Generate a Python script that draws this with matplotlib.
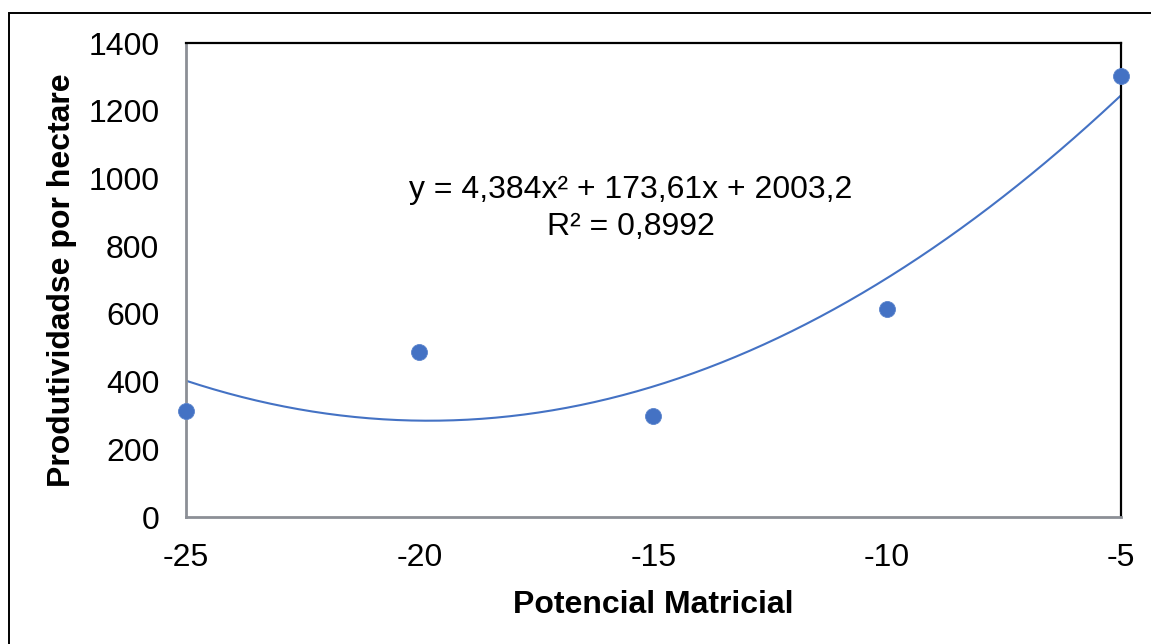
import numpy as np
import matplotlib.pyplot as plt
from matplotlib.patches import Rectangle

plt.rcParams['font.family'] = ['Liberation Sans', 'DejaVu Sans']
plt.rcParams['axes.unicode_minus'] = False

# data
potencial = [-25, -20, -15, -10, -5]
produtividade = [313, 486, 299, 614, 1302]
# trendline coefficients as shown on the chart (a*x^2 + b*x + c)
coef = [4.384, 173.61, 2003.2]
r2_text = 'R² = 0,8992'
eq_text = 'y = 4,384x² + 173,61x + 2003,2'

blue = '#4472C4'

fig = plt.figure(figsize=(11.51, 6.44), dpi=100)
ax = fig.add_axes([0.1613, 0.1972, 0.8124, 0.736])

# outer chart border (only top/left visible in the picture)
fig.add_artist(Rectangle((9 / 1151, -0.1), 1.2, 1 - 12.7 / 644 + 0.1,
                         transform=fig.transFigure, fill=False,
                         edgecolor='black', linewidth=1.4))

xs = np.linspace(-25, -5, 200)
ax.plot(xs, np.polyval(coef, xs), color=blue, linewidth=1.5, zorder=2)
ax.plot(potencial, produtividade, 'o', color=blue, markersize=11.5,
        markeredgecolor='#5b84cc', markeredgewidth=0.6, zorder=3,
        clip_on=False)

ax.set_xlim(-25, -5)
ax.set_ylim(0, 1400)
ax.set_xticks(potencial)
ax.set_yticks(range(0, 1401, 200))
ax.tick_params(length=0, labelsize=23)
ax.tick_params(axis='y', pad=19)
ax.tick_params(axis='x', pad=19)

for side in ['top', 'right']:
    ax.spines[side].set_color('black')
    ax.spines[side].set_linewidth(1.6)
for side in ['left', 'bottom']:
    ax.spines[side].set_color('#8c8f96')
    ax.spines[side].set_linewidth(2)

ax.set_xlabel('Potencial Matricial', fontsize=23, fontweight='bold',
              labelpad=12)
ax.set_ylabel('Produtividadse por hectare', fontsize=23, fontweight='bold',
              labelpad=8)

ax.text(-15.48, 966, eq_text, fontsize=23, ha='center', va='center')
ax.text(-15.48, 856, r2_text, fontsize=23, ha='center', va='center')

fig.savefig('out.png', dpi=100)
